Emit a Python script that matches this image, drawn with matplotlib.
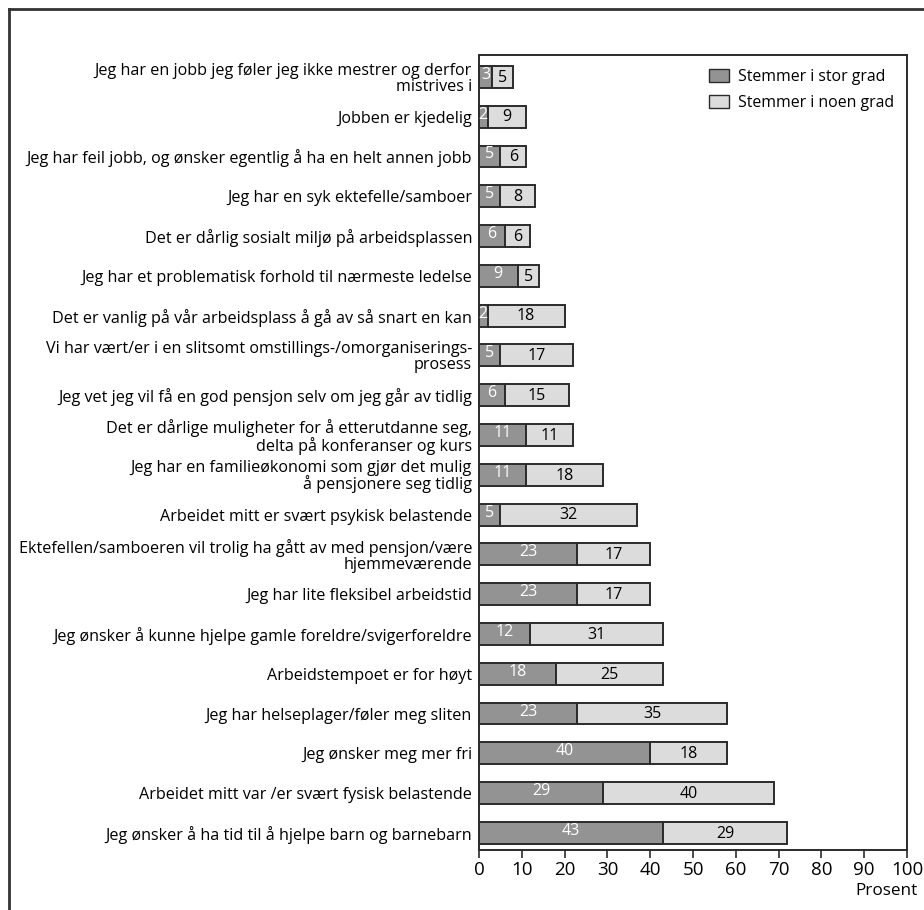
import matplotlib
matplotlib.use("Agg")
import matplotlib.pyplot as plt
from matplotlib.lines import Line2D
from matplotlib.patches import Patch

plt.rcParams['font.family'] = ['Open Sans', 'DejaVu Sans']

categories = [
    "Jeg har en jobb jeg føler jeg ikke mestrer og derfor\nmistrives i",
    "Jobben er kjedelig",
    "Jeg har feil jobb, og ønsker egentlig å ha en helt annen jobb",
    "Jeg har en syk ektefelle/samboer",
    "Det er dårlig sosialt miljø på arbeidsplassen",
    "Jeg har et problematisk forhold til nærmeste ledelse",
    "Det er vanlig på vår arbeidsplass å gå av så snart en kan",
    "Vi har vært/er i en slitsomt omstillings-/omorganiserings-\nprosess",
    "Jeg vet jeg vil få en god pensjon selv om jeg går av tidlig",
    "Det er dårlige muligheter for å etterutdanne seg,\ndelta på konferanser og kurs",
    "Jeg har en familieøkonomi som gjør det mulig\nå pensjonere seg tidlig",
    "Arbeidet mitt er svært psykisk belastende",
    "Ektefellen/samboeren vil trolig ha gått av med pensjon/være\nhjemmeværende",
    "Jeg har lite fleksibel arbeidstid",
    "Jeg ønsker å kunne hjelpe gamle foreldre/svigerforeldre",
    "Arbeidstempoet er for høyt",
    "Jeg har helseplager/føler meg sliten",
    "Jeg ønsker meg mer fri",
    "Arbeidet mitt var /er svært fysisk belastende",
    "Jeg ønsker å ha tid til å hjelpe barn og barnebarn",
]
stor_grad = [3, 2, 5, 5, 6, 9, 2, 5, 6, 11, 11, 5, 23, 23, 12, 18, 23, 40, 29, 43]
noen_grad = [5, 9, 6, 8, 6, 5, 18, 17, 15, 11, 18, 32, 17, 17, 31, 25, 35, 18, 40, 29]
series_names = ["Stemmer i stor grad", "Stemmer i noen grad"]
x_ticks = [0, 10, 20, 30, 40, 50, 60, 70, 80, 90, 100]
x_label = "Prosent"

dark = "#939393"
light = "#dcdcdc"
edge = "#2b2b2b"

fig = plt.figure(figsize=(9.24, 9.10), dpi=100)
ax = fig.add_axes([479/924, 1-850/910, (907-479)/924, (850-55)/910])

ypos = list(range(len(categories)))
h = 0.55
ax.barh(ypos, stor_grad, height=h, color=dark, edgecolor=edge, linewidth=1.4)
ax.barh(ypos, noen_grad, left=stor_grad, height=h, color=light, edgecolor=edge, linewidth=1.4)

for y, a, b in zip(ypos, stor_grad, noen_grad):
    ax.text(a/2, y - 0.05, str(a), ha='center', va='center', color='white', fontsize=11.5)
    ax.text(a + b/2, y + 0.02, str(b), ha='center', va='center', color='black', fontsize=11.5)

ax.set_xlim(0, 100)
ax.set_ylim(19.43, -0.55)
ax.set_xticks(x_ticks)
ax.set_xticklabels([str(t) for t in x_ticks], fontsize=13.5)
ax.set_yticks(ypos)
ax.set_yticklabels(categories, fontsize=11.6, linespacing=0.98)
ax.tick_params(axis='y', length=0, pad=5)
ax.tick_params(axis='x', length=6, width=1.2, color=edge, pad=2)
for s in ax.spines.values():
    s.set_color(edge)
    s.set_linewidth(1.4)

fig.text(918/924, 1-891/910, x_label, ha='right', va='center', fontsize=12.3)

handles = [Patch(facecolor=dark, edgecolor=edge, linewidth=1.0),
           Patch(facecolor=light, edgecolor=edge, linewidth=1.0)]
ax.legend(handles, series_names, loc='upper right', bbox_to_anchor=(0.97, 0.982),
          frameon=False, fontsize=11.4, handlelength=1.26, handleheight=0.9,
          handletextpad=0.6, labelspacing=0.62, borderpad=0, borderaxespad=0)

# figure border (partially cropped)
fig.add_artist(Line2D([9/924, 9/924], [0, 1-9/910], transform=fig.transFigure, color="#333333", linewidth=2))
fig.add_artist(Line2D([9/924, 1], [1-9/910, 1-9/910], transform=fig.transFigure, color="#333333", linewidth=2))

fig.savefig("out.png", dpi=100)
